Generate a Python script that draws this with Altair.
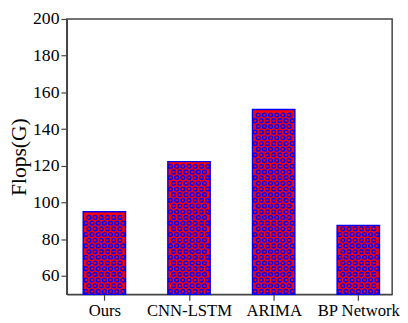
import json
import altair as alt
import pandas as pd

categories = ["Ours", "CNN-LSTM", "ARIMA", "BP Network"]
flops = [95.0, 122.3, 150.7, 87.5]
y_ticks = [60, 80, 100, 120, 140, 160, 180, 200]

df = pd.DataFrame({"cat": categories, "idx": list(range(len(categories))), "value": flops})

AXIS_COLOR = "#444444"
FONT = "Liberation Serif"
HALF = 0.25  # half bar width in category units

label_expr = json.dumps(categories) + "[datum.value]"

xscale = alt.Scale(domain=[-0.444, 3.4], nice=False, zero=False)
yscale = alt.Scale(domain=[50, 200], nice=False, zero=False)

base = alt.Chart(df)

bars = base.transform_calculate(
    x0=f"datum.idx - {HALF}", x1=f"datum.idx + {HALF}"
).mark_bar(fill="#ff0000", stroke="#0000ff", strokeWidth=1.5).encode(
    x=alt.X("x0:Q", scale=xscale,
            axis=alt.Axis(values=list(range(len(categories))), labelExpr=label_expr,
                          title=None, grid=False, labelFont=FONT, labelFontSize=17)),
    x2="x1:Q",
    y=alt.Y("value:Q", scale=yscale,
            axis=alt.Axis(values=y_ticks, title="Flops(G)", grid=False,
                          labelFont=FONT, titleFont=FONT, labelFontSize=18)),
    y2=alt.datum(50),
)

# circle hatch drawn inside each bar (matplotlib 'o' hatch look)
ROW = 3.1
COL = 0.073
hatch = base.transform_calculate(
    rows="sequence(0, floor((datum.value - 52) / %f) + 1)" % ROW
).transform_flatten(["rows"], as_=["r"]).transform_calculate(
    cols="sequence(0, 7 - (datum.r % 2))"
).transform_flatten(["cols"], as_=["c"]).transform_calculate(
    py=f"51.6 + datum.r * {ROW}",
    px=f"datum.idx - 0.219 + (datum.r % 2) * {COL/2} + datum.c * {COL}",
).mark_point(shape="circle", filled=False, stroke="#0000ff", strokeWidth=1.4,
             size=15, opacity=1).encode(
    x=alt.X("px:Q", scale=xscale),
    y=alt.Y("py:Q", scale=yscale),
)

chart = alt.layer(bars, hatch).properties(
    width=332, height=281,
    autosize=alt.AutoSizeParams(type="none"),
    padding={"left": 60, "top": 8, "right": 8, "bottom": 26},
).configure_view(
    stroke=AXIS_COLOR, strokeWidth=1.5
).configure_axis(
    labelFont=FONT, titleFont=FONT, titleFontSize=22,
    titleFontWeight="normal", labelColor="black", titleColor="black",
    domainColor=AXIS_COLOR, tickColor=AXIS_COLOR, domainWidth=1.5, tickWidth=1.2,
    tickSize=6, labelPadding=2,
).configure_axisY(titlePadding=2).configure_axisX(labelPadding=3)

chart.save("out.html", embed_options={"renderer": "svg", "actions": False})
